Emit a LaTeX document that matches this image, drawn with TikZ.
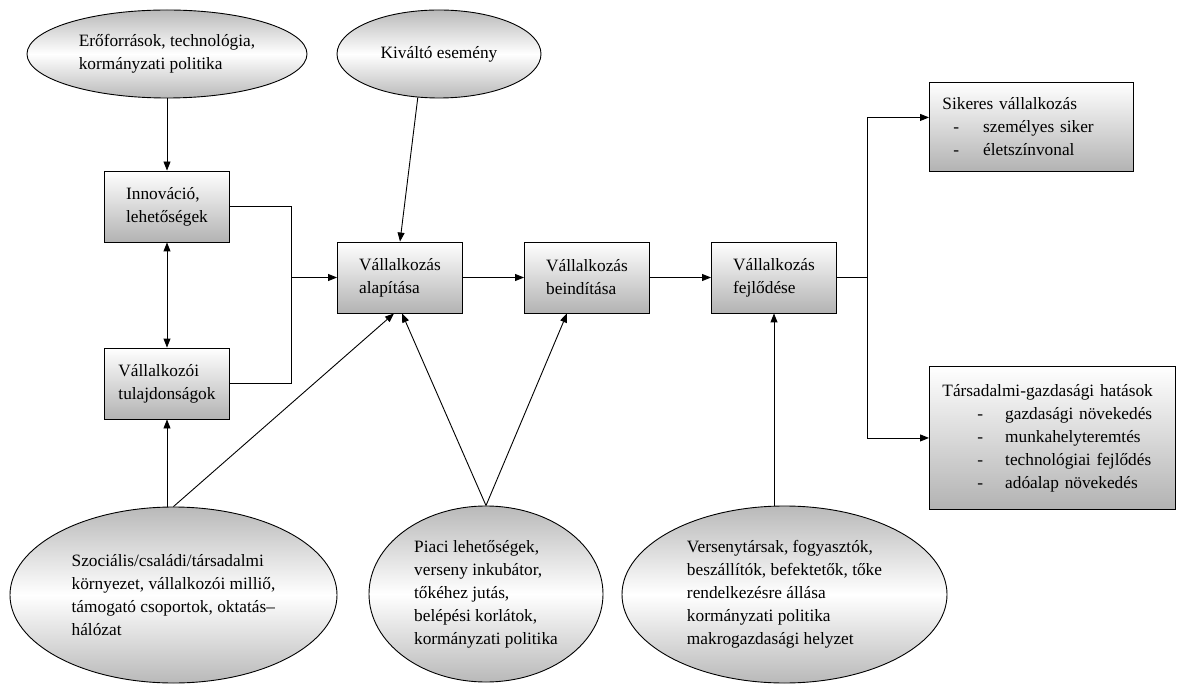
\documentclass[tikz,border=0pt]{standalone}
\usepackage{fontspec}
\setmainfont{Liberation Serif}
\usetikzlibrary{arrows.meta,shapes.geometric,positioning}

\begin{document}
\begin{tikzpicture}[->,>={Triangle[length=9pt,width=7pt]},x=1pt,y=-1pt,
        node distance=187pt,line width=0.9pt,
        every node/.style={font=\fontsize{17.3}{23}\selectfont},
        doboz/.style={draw,rectangle,top color=white,bottom color=gray!60,
          minimum width=125pt,minimum height=71pt,align=left,inner sep=0pt},
        ovalis/.style={draw,ellipse,top color=gray!55,bottom color=gray!55,
          middle color=white,align=left,inner sep=0pt}]

  \useasboundingbox (0,0) rectangle (1177,684);

  \node[doboz] (alap) at (400,277.5) {Vállalkozás\\alapítása};
  \node[doboz] (beind) [right of=alap] {Vállalkozás\\beindítása};
  \node[doboz] (fejl) [right of=beind] {Vállalkozás\\fejlődése};
  \node[doboz] (innov) at (167,206.5) {Innováció,\\lehetőségek};
  \node[doboz] (tul) [node distance=177pt,below of=innov] {Vállalkozói\\tulajdonságok};

  \node[ovalis,minimum width=280pt,minimum height=88pt] (eroforras) at (167,54)
    {Erőforrások, technológia,\\kormányzati politika};
  \node[ovalis,minimum width=204pt,minimum height=88pt] (kivalto) at (439,54)
    {Kiváltó esemény};
  \node[ovalis,minimum width=327pt,minimum height=176pt] (szoc) at (173.5,595)
    {Szociális/családi/társadalmi\\környezet, vállalkozói milliő,\\támogató csoportok, oktatás--\\hálózat};
  \node[ovalis,minimum width=234pt,minimum height=176pt] (piaci) at (486,594)
    {Piaci lehetőségek,\\verseny inkubátor,\\tőkéhez jutás,\\belépési korlátok,\\kormányzati politika};
  \node[ovalis,minimum width=325pt,minimum height=177pt] (verseny) at (784.5,594.5)
    {Versenytársak, fogyasztók,\\beszállítók, befektetők, tőke\\rendelkezésre állása\\kormányzati politika\\makrogazdasági helyzet};

  \node[doboz,anchor=north west,text width=178pt,inner xsep=13pt,minimum height=89pt]
    (sikeres) at (929,82)
    {Sikeres vállalkozás\\
     \hspace*{11pt}-\hspace{24pt}személyes siker\\
     \hspace*{11pt}-\hspace{24pt}életszínvonal};
  \node[doboz,anchor=north west,text width=220pt,inner xsep=13pt,minimum height=143pt]
    (tars) at (929,366)
    {Társadalmi-gazdasági hatások\\
     \hspace*{35pt}-\hspace{22pt}gazdasági növekedés\\
     \hspace*{35pt}-\hspace{22pt}munkahelyteremtés\\
     \hspace*{35pt}-\hspace{22pt}technológiai fejlődés\\
     \hspace*{35pt}-\hspace{22pt}adóalap növekedés};

  \coordinate[left=46pt of alap] (gyujto);
  \coordinate[right=30pt of fejl] (elag);

  \draw[-] (innov) -| (gyujto) |- (tul);
  \draw[-] (fejl) -- (elag);
  \draw (elag) |- ([yshift=9.5pt]sikeres.west);
  \draw (elag) |- (tars.west);

  \path (eroforras) edge (innov)
        (kivalto.244) edge (alap.north)
        (innov) edge [<->] (tul)
        (tul.south |- szoc.north) edge (tul.south)
        (szoc.north) edge ([xshift=-6pt]alap.south)
        (piaci.north) edge ([xshift=2pt]alap.south)
        (piaci.north) edge ([xshift=-20pt]beind.south)
        (fejl.south |- verseny.north) edge (fejl.south)
        (gyujto) edge (alap)
        (alap) edge (beind)
        (beind) edge (fejl);

\end{tikzpicture}
\end{document}
